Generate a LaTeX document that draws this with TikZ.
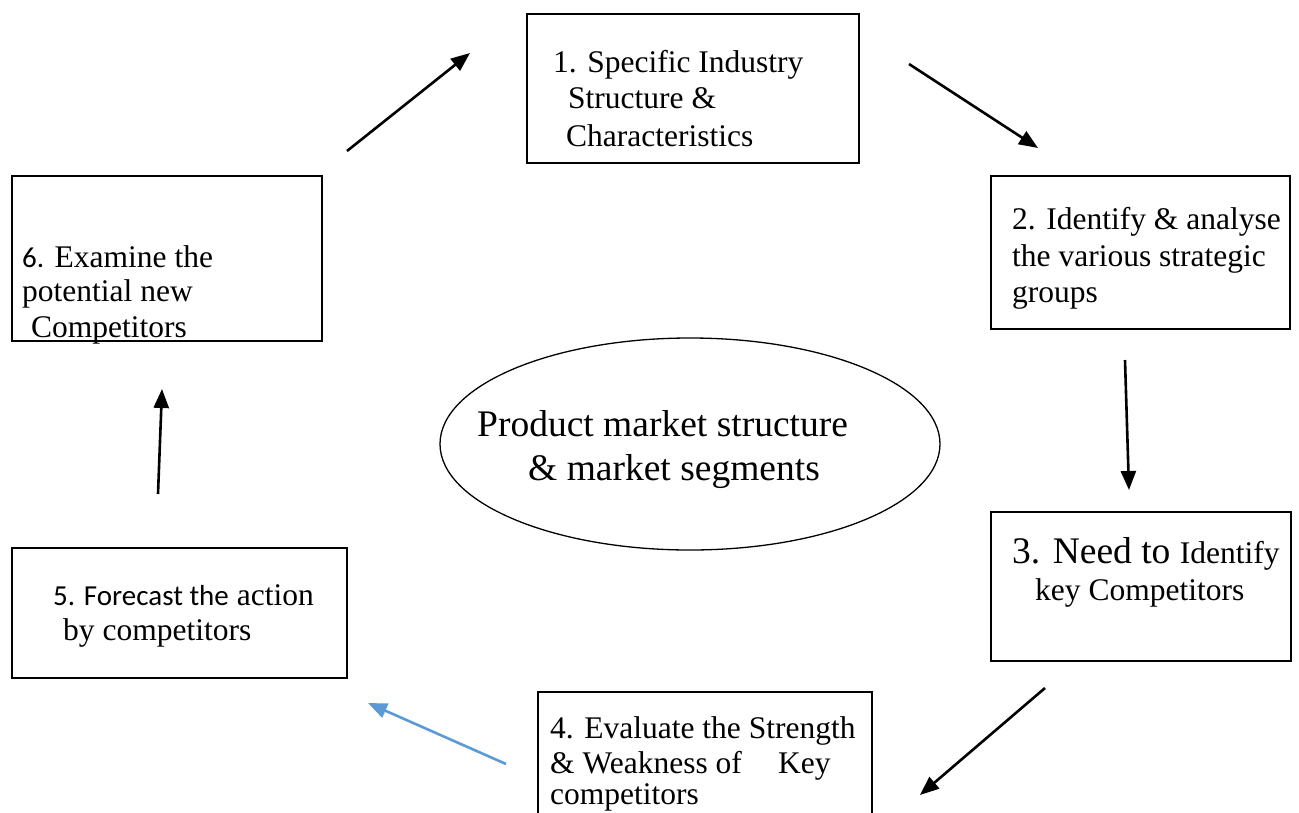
\documentclass[tikz,border=0pt]{standalone}
\usepackage{fontspec}
\setmainfont{Liberation Serif}
\newfontfamily\calibri{Carlito}
\usetikzlibrary{shapes.geometric,arrows.meta}
\definecolor{arrowblue}{RGB}{91,155,213}
\tikzset{
  box/.style={draw=black, line width=1.6pt, rectangle, inner sep=0pt},
  txt/.style={anchor=base west, inner sep=0pt, font=\fontsize{31.5}{36}\selectfont},
  bigtxt/.style={anchor=base west, inner sep=0pt, font=\fontsize{37.5}{45}\selectfont},
  arr/.style={line width=2.6pt, -{Triangle[length=19pt,width=15pt]}},
}
\begin{document}
\begin{tikzpicture}[x=1pt,y=-1pt]
\useasboundingbox (0,0) rectangle (1299,812);
\clip (0,0) rectangle (1299,812);
\fill[white] (0,0) rectangle (1299,812);

% boxes
\node[box, minimum width=332pt, minimum height=149pt] (b1) at (693,88.5) {};
\node[box, minimum width=299pt, minimum height=153pt] (b2) at (1140.5,252.5) {};
\node[box, minimum width=300pt, minimum height=149pt] (b3) at (1141,586.5) {};
\node[box, minimum width=334pt, minimum height=140pt] (b4) at (705,762) {};
\node[box, minimum width=335pt, minimum height=130pt] (b5) at (179.5,613) {};
\node[box, minimum width=310pt, minimum height=165pt] (b6) at (167,258.5) {};
\node[draw=black, line width=1.3pt, ellipse, minimum width=500pt, minimum height=212pt, inner sep=0pt] (el) at (690,444) {};

% texts box 1
\node[txt] (t1a) at (553,72) {1. Specific Industry};
\node[txt] (t1b) at (568,108) {Structure \&};
\node[txt] (t1c) at (566,146) {Characteristics};
% box 2
\node[txt] (t2a) at (1012,229) {2. Identify \& analyse};
\node[txt] (t2b) at (1012,266) {the various strategic};
\node[txt] (t2c) at (1012,302) {groups};
% box 3
\node[anchor=base west, inner sep=0pt] (t3a) at (1012,563) {\fontsize{37.5}{45}\selectfont 3. Need to \fontsize{31.5}{36}\selectfont Identify};
\node[txt] (t3b) at (1035,600) {key Competitors};
% box 4
\node[txt] (t4a) at (550,738) {4. Evaluate the Strength};
\node[txt] (t4b) at (550,773) {\& Weakness of\hspace{0.9em} Key};
\node[txt] (t4c) at (550,804) {competitors};
% box 5
\node[txt] (t5a) at (53,605) {{\calibri\fontsize{29}{36}\selectfont 5. Forecast the} action};
\node[txt] (t5b) at (63,640) {by competitors};
% box 6
\node[txt] (t6a) at (22,267) {{\calibri\fontsize{29}{36}\selectfont 6.} Examine the};
\node[txt] (t6b) at (22,301) {potential new};
\node[txt] (t6c) at (31,337) {Competitors};
% ellipse text
\node[bigtxt] (te1) at (477,436) {Product market structure};
\node[bigtxt] (te2) at (528,480) {\& market segments};

% arrow endpoints
\coordinate (a1s) at (347,151); \coordinate (a1e) at (470,53);
\coordinate (a2s) at (909,64);  \coordinate (a2e) at (1038,148);
\coordinate (a3s) at (1125,360); \coordinate (a3e) at (1129,490);
\coordinate (a4s) at (1045,688); \coordinate (a4e) at (920,795);
\coordinate (a5s) at (506,764); \coordinate (a5e) at (368,703);
\coordinate (a6s) at (158,494); \coordinate (a6e) at (162,389);

\draw[arr] (a1s) -- (a1e);
\draw[arr] (a2s) -- (a2e);
\draw[arr] (a3s) -- (a3e);
\draw[arr] (a4s) -- (a4e);
\draw[arr, draw=arrowblue, fill=arrowblue] (a5s) -- (a5e);
\draw[arr] (a6s) -- (a6e);
\end{tikzpicture}
\end{document}
